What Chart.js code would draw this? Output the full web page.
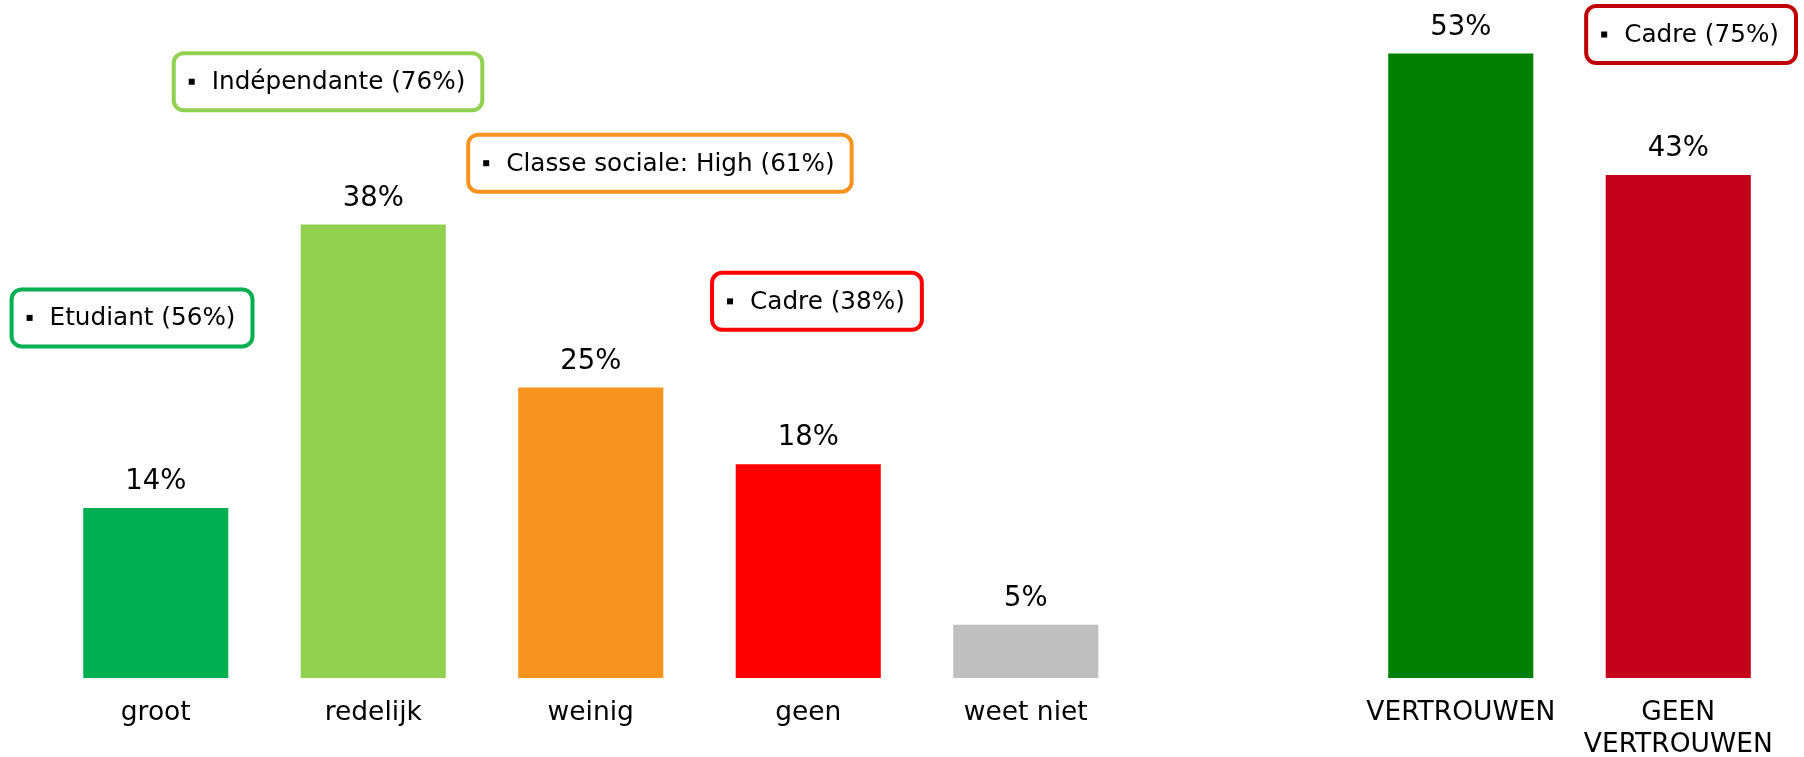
<!DOCTYPE html>
<html>
<head>
<meta charset="utf-8">
<script src="https://cdn.jsdelivr.net/npm/chart.js@4/dist/chart.umd.min.js"></script>
<style>
  html, body { margin: 0; background: #fff; }
  #wrap { width: 1804px; height: 757px; position: relative; }
</style>
</head>
<body>
<div id="wrap"><canvas id="chart"></canvas></div>
<script>
// bars (index 5 is the empty gap between the two groups)
const categories = ['groot', 'redelijk', 'weinig', 'geen', 'weet niet', '', 'VERTROUWEN', ['GEEN', 'VERTROUWEN']];
const values = [14.4, 38.4, 24.6, 18.1, 4.5, null, 52.9, 42.6];
const barColors = ['#00b050', '#92d050', '#f7931e', '#ff0000', '#bfbfbf', '#ffffff', '#008000', '#c5001a'];

// callout boxes: text, border colour, anchor on the category axis (fractional) and on the value axis (%)
const noteTexts = ['Etudiant (56%)', 'Indépendante (76%)', 'Classe sociale: High (61%)', 'Cadre (38%)', 'Cadre (75%)'];
const noteColors = ['#00b050', '#92d050', '#f7931e', '#ff0000', '#c00000'];
const noteCats = [-0.109, 0.792, 2.318, 3.04, 7.059];
const noteVals = [30.5, 50.5, 43.6, 31.9, 54.5];

const FONT = '"DejaVu Sans", Verdana, sans-serif';

const labelsPlugin = {
  id: 'labels',
  afterDatasetsDraw(chart) {
    const ctx = chart.ctx;
    const meta = chart.getDatasetMeta(0);
    ctx.save();
    // value labels above bars
    ctx.font = '27.5px ' + FONT;
    ctx.fillStyle = '#000';
    ctx.textAlign = 'center';
    ctx.textBaseline = 'middle';
    meta.data.forEach((bar, i) => {
      if (values[i] == null) return;
      ctx.fillText(Math.round(values[i]) + '%', bar.x, bar.y - 26);
    });
    // callouts
    const xs = chart.scales.x, ys = chart.scales.y;
    ctx.font = '24.7px ' + FONT;
    ctx.textAlign = 'left';
    noteTexts.forEach((t, i) => {
      const cx = xs.getPixelForValue(noteCats[i]);
      const cy = ys.getPixelForValue(noteVals[i]);
      const tw = ctx.measureText(t).width;
      const w = 38 + tw + 17, h = 57;
      const left = cx - w / 2, top = cy - h / 2;
      ctx.beginPath();
      ctx.roundRect(left, top, w, h, 10);
      ctx.fillStyle = '#fff';
      ctx.fill();
      ctx.lineWidth = 4;
      ctx.strokeStyle = noteColors[i];
      ctx.stroke();
      ctx.fillStyle = '#000';
      ctx.fillRect(left + 15, cy - 3, 6, 6);
      ctx.fillText(t, left + 38, cy + 1);
    });
    ctx.restore();
  }
};

new Chart(document.getElementById('chart'), {
  type: 'bar',
  data: {
    labels: categories,
    datasets: [{
      data: values,
      backgroundColor: barColors,
      borderWidth: 0,
      barPercentage: 0.667,
      categoryPercentage: 1
    }]
  },
  options: {
    responsive: true,
    maintainAspectRatio: false,
    animation: false,
    layout: { padding: { left: 47, right: 17, top: 5, bottom: 0 } },
    plugins: { legend: { display: false }, tooltip: { enabled: false } },
    scales: {
      x: {
        grid: { display: false, drawTicks: false },
        border: { display: false },
        ticks: { color: '#000', font: { family: FONT, size: 26.5 }, padding: 19, maxRotation: 0, autoSkip: false },
        afterFit: s => { s.height = 79; }
      },
      y: { display: false, min: 0, max: 57 }
    }
  },
  plugins: [labelsPlugin]
});
</script>
</body>
</html>
